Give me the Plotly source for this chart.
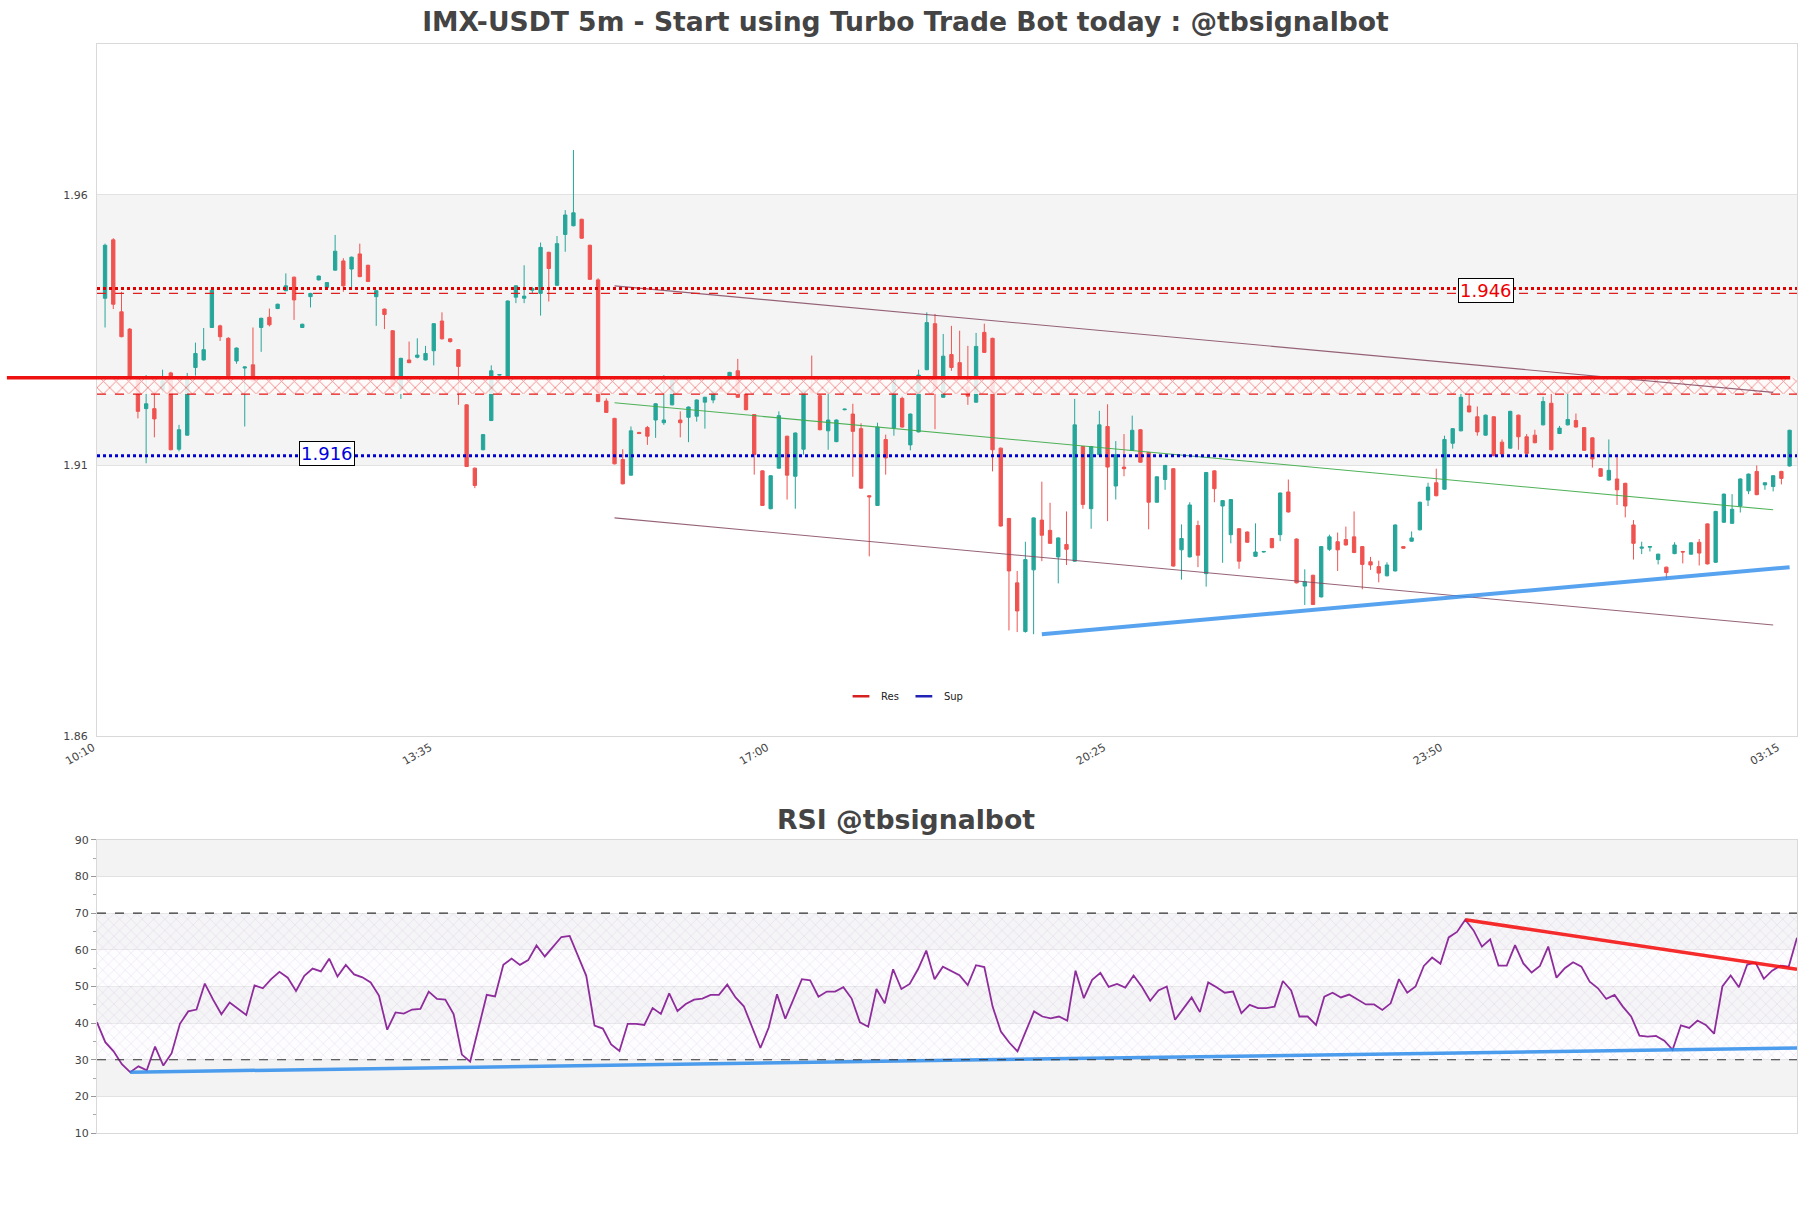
import pandas as pd
import plotly.graph_objects as go

# ---------------- data ----------------
start_time = "2024-01-01 10:10"
n_candles = 206
times = pd.date_range(start_time, periods=n_candles, freq="5min")

open_ = [
    1.9451, 1.9559, 1.9426, 1.9394, 1.9305, 1.9247, 1.9247, 1.9282, 1.9313, 1.9172,
    1.9198, 1.9323, 1.9337, 1.9397, 1.9400, 1.9377, 1.9335, 1.9322, 1.9328, 1.9397,
    1.9416, 1.9432, 1.9465, 1.9490, 1.9397, 1.9454, 1.9485, 1.9471, 1.9503, 1.9520,
    1.9505, 1.9533, 1.9512, 1.9454, 1.9431, 1.9391, 1.9282, 1.9337, 1.9342, 1.9337,
    1.9354, 1.9409, 1.9376, 1.9356, 1.9254, 1.9137, 1.9171, 1.9225, 1.9309, 1.9305,
    1.9453, 1.9451, 1.9466, 1.9460, 1.9536, 1.9475, 1.9569, 1.9585, 1.9597, 1.9549,
    1.9485, 1.9261, 1.9229, 1.9153, 1.9124, 1.9203, 1.9212, 1.9226, 1.9221, 1.9254,
    1.9226, 1.9231, 1.9233, 1.9259, 1.9263, 1.9285, 1.9302, 1.9317, 1.9276, 1.9236,
    1.9132, 1.9062, 1.9137, 1.9196, 1.9122, 1.9172, 1.9285, 1.9271, 1.9206, 1.9186,
    1.9245, 1.9237, 1.9210, 1.9086, 1.9068, 1.9190, 1.9211, 1.9266, 1.9180, 1.9204,
    1.9319, 1.9404, 1.9268, 1.9347, 1.9332, 1.9287, 1.9259, 1.9388, 1.9377, 1.9174,
    1.9044, 1.8925, 1.8835, 1.8949, 1.9041, 1.9022, 1.8973, 1.8996, 1.8965, 1.9177,
    1.9062, 1.9162, 1.9214, 1.9104, 1.9139, 1.9170, 1.9208, 1.9166, 1.9074, 1.9116,
    1.9136, 1.8986, 1.8973, 1.9031, 1.8942, 1.9132, 1.9067, 1.9014, 1.9025, 1.9019,
    1.8974, 1.8982, 1.9007, 1.9014, 1.9093, 1.9006, 1.8919, 1.8939, 1.8899, 1.8987,
    1.9001, 1.9005, 1.9010, 1.8992, 1.8964, 1.8955, 1.8938, 1.8947, 1.8992, 1.9002,
    1.9023, 1.9078, 1.9110, 1.9098, 1.9183, 1.9206, 1.9252, 1.9232, 1.9198, 1.9232,
    1.9185, 1.9174, 1.9235, 1.9195, 1.9198, 1.9217, 1.9257, 1.9201, 1.9217, 1.9225,
    1.9212, 1.9193, 1.9136, 1.9115, 1.9117, 1.9109, 1.9032, 1.8989, 1.8991, 1.8968,
    1.8954, 1.8979, 1.8983, 1.8978, 1.9000, 1.9034, 1.8963, 1.9037, 1.9035, 1.9067,
    1.9095, 1.9131, 1.9106, 1.9103, 1.9131, 1.9141,
]
high = [
    1.9552, 1.9562, 1.9463, 1.9396, 1.9307, 1.9309, 1.9282, 1.9319, 1.9315, 1.9217,
    1.9313, 1.9369, 1.9396, 1.9468, 1.9402, 1.9379, 1.9360, 1.9325, 1.9397, 1.9415,
    1.9432, 1.9441, 1.9497, 1.9491, 1.9404, 1.9461, 1.9493, 1.9481, 1.9568, 1.9525,
    1.9528, 1.9552, 1.9513, 1.9466, 1.9432, 1.9392, 1.9341, 1.9371, 1.9377, 1.9363,
    1.9405, 1.9425, 1.9377, 1.9357, 1.9255, 1.9138, 1.9200, 1.9327, 1.9311, 1.9447,
    1.9475, 1.9512, 1.9472, 1.9554, 1.9537, 1.9566, 1.9614, 1.9725, 1.9598, 1.9550,
    1.9488, 1.9266, 1.9230, 1.9172, 1.9214, 1.9204, 1.9215, 1.9257, 1.9309, 1.9306,
    1.9242, 1.9251, 1.9264, 1.9269, 1.9280, 1.9296, 1.9315, 1.9339, 1.9287, 1.9237,
    1.9133, 1.9124, 1.9242, 1.9197, 1.9203, 1.9282, 1.9345, 1.9272, 1.9285, 1.9227,
    1.9247, 1.9256, 1.9220, 1.9087, 1.9221, 1.9199, 1.9303, 1.9269, 1.9238, 1.9319,
    1.9425, 1.9422, 1.9385, 1.9400, 1.9391, 1.9363, 1.9387, 1.9404, 1.9378, 1.9175,
    1.9045, 1.8947, 1.9001, 1.9046, 1.9112, 1.9073, 1.9009, 1.9057, 1.9265, 1.9178,
    1.9178, 1.9243, 1.9255, 1.9187, 1.9200, 1.9234, 1.9209, 1.9167, 1.9122, 1.9143,
    1.9137, 1.9033, 1.9074, 1.9040, 1.9130, 1.9133, 1.9078, 1.9080, 1.9026, 1.9020,
    1.9035, 1.8984, 1.9008, 1.9092, 1.9116, 1.9007, 1.8950, 1.8940, 1.8993, 1.9014,
    1.9018, 1.9029, 1.9057, 1.8993, 1.8973, 1.8966, 1.8963, 1.9033, 1.8993, 1.9020,
    1.9075, 1.9110, 1.9136, 1.9197, 1.9211, 1.9292, 1.9283, 1.9251, 1.9236, 1.9233,
    1.9190, 1.9243, 1.9236, 1.9200, 1.9208, 1.9269, 1.9278, 1.9215, 1.9306, 1.9238,
    1.9213, 1.9194, 1.9137, 1.9190, 1.9161, 1.9110, 1.9041, 1.9001, 1.8993, 1.8979,
    1.8955, 1.9000, 1.8984, 1.9000, 1.9006, 1.9035, 1.9058, 1.9090, 1.9089, 1.9118,
    1.9127, 1.9142, 1.9111, 1.9124, 1.9132, 1.9208,
]
low = [
    1.9397, 1.9431, 1.9379, 1.9303, 1.9229, 1.9146, 1.9194, 1.9276, 1.9170, 1.9168,
    1.9197, 1.9308, 1.9336, 1.9396, 1.9372, 1.9307, 1.9330, 1.9214, 1.9297, 1.9352,
    1.9399, 1.9431, 1.9464, 1.9411, 1.9396, 1.9434, 1.9484, 1.9470, 1.9502, 1.9463,
    1.9471, 1.9490, 1.9481, 1.9400, 1.9394, 1.9287, 1.9265, 1.9331, 1.9340, 1.9336,
    1.9327, 1.9375, 1.9369, 1.9254, 1.9139, 1.9100, 1.9170, 1.9224, 1.9308, 1.9304,
    1.9442, 1.9442, 1.9460, 1.9419, 1.9445, 1.9474, 1.9537, 1.9584, 1.9561, 1.9485,
    1.9259, 1.9239, 1.9144, 1.9107, 1.9123, 1.9200, 1.9180, 1.9193, 1.9217, 1.9253,
    1.9194, 1.9185, 1.9223, 1.9210, 1.9257, 1.9278, 1.9291, 1.9267, 1.9244, 1.9125,
    1.9067, 1.9061, 1.9136, 1.9079, 1.9062, 1.9162, 1.9275, 1.9207, 1.9171, 1.9185,
    1.9244, 1.9121, 1.9099, 1.8974, 1.9067, 1.9125, 1.9197, 1.9212, 1.9170, 1.9203,
    1.9318, 1.9209, 1.9267, 1.9317, 1.9307, 1.9254, 1.9258, 1.9350, 1.9131, 1.9029,
    1.8837, 1.8834, 1.8833, 1.8830, 1.8965, 1.8997, 1.8924, 1.8958, 1.8964, 1.9062,
    1.9025, 1.9161, 1.9039, 1.9079, 1.9122, 1.9169, 1.9147, 1.9024, 1.9073, 1.9097,
    1.8955, 1.8931, 1.8972, 1.8954, 1.8918, 1.9074, 1.8962, 1.8998, 1.8951, 1.8999,
    1.8973, 1.8981, 1.8989, 1.9002, 1.9055, 1.8924, 1.8884, 1.8884, 1.8898, 1.8984,
    1.8947, 1.8994, 1.8980, 1.8913, 1.8949, 1.8926, 1.8937, 1.8946, 1.8988, 1.9001,
    1.9022, 1.9067, 1.9085, 1.9097, 1.9173, 1.9205, 1.9240, 1.9197, 1.9197, 1.9159,
    1.9157, 1.9173, 1.9171, 1.9163, 1.9183, 1.9216, 1.9170, 1.9200, 1.9216, 1.9212,
    1.9169, 1.9138, 1.9121, 1.9114, 1.9069, 1.9046, 1.8968, 1.8978, 1.8983, 1.8959,
    1.8933, 1.8978, 1.8961, 1.8977, 1.8957, 1.8959, 1.8962, 1.9036, 1.9034, 1.9055,
    1.9089, 1.9087, 1.9097, 1.9094, 1.9107, 1.9140,
]
close = [
    1.9549, 1.9440, 1.9380, 1.9305, 1.9242, 1.9256, 1.9228, 1.9298, 1.9171, 1.9208,
    1.9305, 1.9349, 1.9356, 1.9466, 1.9380, 1.9308, 1.9359, 1.9324, 1.9298, 1.9414,
    1.9402, 1.9440, 1.9474, 1.9448, 1.9403, 1.9460, 1.9492, 1.9480, 1.9538, 1.9474,
    1.9527, 1.9491, 1.9482, 1.9465, 1.9421, 1.9288, 1.9340, 1.9332, 1.9346, 1.9349,
    1.9404, 1.9376, 1.9371, 1.9325, 1.9140, 1.9105, 1.9199, 1.9317, 1.9310, 1.9446,
    1.9474, 1.9455, 1.9469, 1.9545, 1.9506, 1.9552, 1.9605, 1.9609, 1.9562, 1.9486,
    1.9260, 1.9240, 1.9145, 1.9108, 1.9206, 1.9201, 1.9196, 1.9256, 1.9226, 1.9305,
    1.9221, 1.9250, 1.9263, 1.9268, 1.9279, 1.9279, 1.9314, 1.9268, 1.9245, 1.9162,
    1.9068, 1.9123, 1.9234, 1.9124, 1.9202, 1.9281, 1.9276, 1.9208, 1.9226, 1.9226,
    1.9246, 1.9205, 1.9100, 1.9084, 1.9213, 1.9156, 1.9302, 1.9213, 1.9237, 1.9309,
    1.9406, 1.9283, 1.9344, 1.9323, 1.9308, 1.9270, 1.9362, 1.9351, 1.9171, 1.9030,
    1.8947, 1.8873, 1.8968, 1.9045, 1.9013, 1.8998, 1.9008, 1.8987, 1.9217, 1.9070,
    1.9177, 1.9217, 1.9139, 1.9162, 1.9136, 1.9207, 1.9148, 1.9074, 1.9121, 1.9142,
    1.8956, 1.9007, 1.9069, 1.8976, 1.9129, 1.9099, 1.9077, 1.9079, 1.8965, 1.9000,
    1.8982, 1.8983, 1.8990, 1.9091, 1.9056, 1.8925, 1.8927, 1.8885, 1.8992, 1.9010,
    1.8986, 1.8995, 1.8981, 1.8959, 1.8958, 1.8943, 1.8958, 1.9032, 1.8989, 1.9008,
    1.9074, 1.9102, 1.9086, 1.9190, 1.9210, 1.9268, 1.9241, 1.9204, 1.9235, 1.9160,
    1.9163, 1.9242, 1.9195, 1.9164, 1.9184, 1.9260, 1.9171, 1.9211, 1.9227, 1.9213,
    1.9170, 1.9154, 1.9122, 1.9133, 1.9097, 1.9067, 1.8998, 1.8991, 1.8992, 1.8978,
    1.8944, 1.8995, 1.8982, 1.8999, 1.8980, 1.8960, 1.9057, 1.9089, 1.9061, 1.9117,
    1.9126, 1.9088, 1.9110, 1.9123, 1.9118, 1.9207,
]
rsi = [
    40.2, 34.8, 32.3, 28.8, 26.6, 28.2, 27.1, 33.6, 28.4, 31.8,
    39.8, 43.2, 43.7, 50.8, 46.4, 42.4, 45.6, 43.9, 42.2, 50.3,
    49.5, 52.0, 54.0, 52.4, 48.8, 52.9, 54.9, 54.1, 57.6, 52.7,
    55.9, 53.3, 52.5, 51.1, 47.5, 38.2, 42.9, 42.6, 43.7, 43.9,
    48.6, 46.6, 46.4, 42.5, 31.4, 29.5, 38.6, 47.7, 47.3, 55.9,
    57.6, 55.9, 57.2, 61.2, 58.2, 60.9, 63.5, 63.8, 58.6, 52.9,
    39.3, 38.5, 34.2, 32.4, 39.8, 39.8, 39.5, 44.1, 42.5, 48.1,
    43.3, 45.2, 46.4, 46.7, 47.7, 47.7, 50.5, 47.0, 44.6, 39.1,
    33.2, 38.8, 47.9, 41.2, 46.5, 52.0, 51.7, 47.2, 48.6, 48.6,
    49.8, 46.7, 40.2, 39.0, 49.3, 45.4, 54.7, 49.3, 50.7, 54.7,
    59.8, 52.0, 55.4, 54.2, 53.1, 50.4, 55.8, 55.3, 44.5, 37.7,
    34.7, 32.3, 37.7, 43.2, 41.8, 41.3, 41.8, 40.7, 54.3, 46.8,
    51.8, 53.7, 49.9, 50.7, 49.7, 53.0, 49.9, 46.1, 48.9, 50.0,
    40.9, 43.8, 47.0, 43.0, 51.1, 49.8, 48.3, 48.6, 42.7, 45.0,
    44.1, 44.1, 44.5, 51.5, 48.9, 41.8, 41.8, 39.5, 47.2, 48.3,
    47.0, 47.8, 46.5, 45.1, 45.1, 43.6, 45.4, 52.0, 48.3, 50.0,
    55.6, 57.9, 56.2, 63.4, 64.9, 68.2, 65.3, 60.9, 62.9, 55.7,
    55.7, 61.3, 56.3, 53.8, 55.6, 60.9, 52.4, 55.0, 56.6, 55.4,
    51.3, 49.5, 46.6, 47.7, 44.5, 41.8, 36.6, 36.3, 36.5, 35.2,
    32.7, 39.4, 38.7, 40.7, 39.5, 37.1, 50.0, 53.0, 49.8, 56.0,
    56.5, 52.1, 54.3, 55.7, 55.4, 63.3,
]

# levels / zones
res_level = 1.946
res_level_upper = 1.9469
sup_level = 1.916
zone_top = 1.9304
zone_bottom = 1.9274

# trend lines: (start index, end index), (start value, end value)
channel_idx = [62, 203]
channel_upper = [1.9474, 1.9277]
channel_mid = [1.9258, 1.9060]
channel_lower = [1.9045, 1.8847]
support_idx = [114, 205]
support_vals = [1.8830, 1.8954]
rsi_res_idx = [165, 205]
rsi_res_vals = [68.2, 54.7]
rsi_sup_idx = [4, 205]
rsi_sup_vals = [26.6, 33.2]
rsi_bands = [(80, 90), (60, 70), (40, 50), (20, 30)]
rsi_ob, rsi_os = 70, 30

# ---------------- figure ----------------
FONT = "DejaVu Sans"
five = pd.Timedelta(minutes=5)
x_left = times[0] - 0.98 * five
x_right = times[-1] + 0.9 * five

fig = go.Figure()

# red hatched zone
fig.add_trace(go.Scatter(
    x=[x_left, x_right, x_right, x_left, x_left],
    y=[zone_top, zone_top, zone_bottom, zone_bottom, zone_top],
    mode="lines", line=dict(width=0), fill="toself",
    fillcolor="rgba(255,255,255,0.8)",
    fillpattern=dict(shape="x", fgcolor="rgb(232,25,25)", bgcolor="rgba(255,252,252,0.85)",
                     size=9, solidity=0.2),
    showlegend=False, hoverinfo="skip", xaxis="x", yaxis="y"))
fig.add_trace(go.Scatter(
    x=[x_left, x_right], y=[zone_bottom, zone_bottom], mode="lines",
    line=dict(color="rgb(230,20,20)", width=1.2, dash="dash"),
    showlegend=False, hoverinfo="skip", xaxis="x", yaxis="y"))

# candles
fig.add_trace(go.Candlestick(
    x=times, open=open_, high=high, low=low, close=close,
    increasing=dict(line=dict(color="#26a69a", width=1), fillcolor="#26a69a"),
    decreasing=dict(line=dict(color="#ef5350", width=1), fillcolor="#ef5350"),
    showlegend=False, xaxis="x", yaxis="y", hoverinfo="skip"))

# channel lines
for vals, col in [(channel_upper, "rgba(130,70,95,0.85)"),
                  (channel_lower, "rgba(130,70,95,0.85)"),
                  (channel_mid, "rgba(60,170,70,0.9)")]:
    fig.add_trace(go.Scatter(
        x=[times[i] for i in channel_idx], y=vals, mode="lines",
        line=dict(color=col, width=1.1), showlegend=False, hoverinfo="skip",
        xaxis="x", yaxis="y"))

# support trend (blue)
fig.add_trace(go.Scatter(
    x=[times[i] for i in support_idx], y=support_vals, mode="lines",
    line=dict(color="rgba(45,140,235,0.8)", width=4), showlegend=False, hoverinfo="skip",
    xaxis="x", yaxis="y"))

# resistance / support levels
fig.add_trace(go.Scatter(
    x=[x_left, x_right], y=[res_level_upper, res_level_upper], mode="lines",
    line=dict(color="#e00000", width=3, dash="dot"), showlegend=False, hoverinfo="skip",
    xaxis="x", yaxis="y"))
fig.add_trace(go.Scatter(
    x=[x_left, x_right], y=[res_level, res_level], mode="lines",
    line=dict(color="#e02020", width=1.2, dash="dash"), showlegend=False, hoverinfo="skip",
    xaxis="x", yaxis="y"))
fig.add_trace(go.Scatter(
    x=[x_left, x_right], y=[sup_level, sup_level], mode="lines",
    line=dict(color="#0000d0", width=3, dash="dot"), showlegend=False, hoverinfo="skip",
    xaxis="x", yaxis="y"))

# legend entries
fig.add_trace(go.Scatter(
    x=[None], y=[None], mode="markers", name="Res",
    marker=dict(symbol="line-ew-open", size=12, color="#d62020",
                line=dict(color="#d62020", width=2.5)),
    xaxis="x", yaxis="y"))
fig.add_trace(go.Scatter(
    x=[None], y=[None], mode="markers", name="Sup",
    marker=dict(symbol="line-ew-open", size=12, color="#2222b5",
                line=dict(color="#2222b5", width=2.5)),
    xaxis="x", yaxis="y"))

# RSI hatched zone 30-70
fig.add_trace(go.Scatter(
    x=[times[0], times[-1], times[-1], times[0], times[0]],
    y=[rsi_ob, rsi_ob, rsi_os, rsi_os, rsi_ob], mode="lines", line=dict(width=0),
    fill="toself", fillcolor="rgba(0,0,0,0)",
    fillpattern=dict(shape="x", fgcolor="rgba(165,135,200,0.6)", bgcolor="rgba(250,247,253,0.3)",
                     size=8, solidity=0.1),
    showlegend=False, hoverinfo="skip", xaxis="x2", yaxis="y2"))

# RSI line
fig.add_trace(go.Scatter(
    x=times, y=rsi, mode="lines", line=dict(color="#8e2c9c", width=1.8),
    showlegend=False, hoverinfo="skip", xaxis="x2", yaxis="y2"))
fig.add_trace(go.Scatter(
    x=[times[i] for i in rsi_res_idx], y=rsi_res_vals, mode="lines",
    line=dict(color="rgba(245,20,20,0.9)", width=3.5), showlegend=False, hoverinfo="skip",
    xaxis="x2", yaxis="y2"))
fig.add_trace(go.Scatter(
    x=[times[i] for i in rsi_sup_idx], y=rsi_sup_vals, mode="lines",
    line=dict(color="rgba(45,140,235,0.85)", width=3.5), showlegend=False, hoverinfo="skip",
    xaxis="x2", yaxis="y2"))

# shapes
shapes = [
    dict(type="rect", xref="x domain", x0=0, x1=1, yref="y", y0=1.9142, y1=1.9642,
         fillcolor="#f4f4f4", line=dict(width=0), layer="below"),
    dict(type="line", xref="paper", x0=-0.053, x1=0.996, yref="y", y0=zone_top, y1=zone_top,
         line=dict(color="#ee1111", width=3.5), layer="above"),
]
for lo, hi in rsi_bands:
    shapes.append(dict(type="rect", xref="x2 domain", x0=0, x1=1, yref="y2", y0=lo, y1=hi,
                       fillcolor="#f3f3f3", line=dict(width=0), layer="below"))
for lvl in (rsi_ob, rsi_os):
    shapes.append(dict(type="line", xref="x2 domain", x0=0, x1=1, yref="y2", y0=lvl, y1=lvl,
                       line=dict(color="#333333", width=1.2, dash="dash"), layer="above"))

annotations = [
    dict(text=f"{res_level:.3f}", x=times[168], y=1.9465, xref="x", yref="y",
         showarrow=False, font=dict(family=FONT, size=18, color="#ee0000"),
         bgcolor="white", bordercolor="black", borderwidth=1, borderpad=1),
    dict(text=f"{sup_level:.3f}", x=times[27], y=1.9164, xref="x", yref="y",
         showarrow=False, font=dict(family=FONT, size=18, color="#0000dd"),
         bgcolor="white", bordercolor="black", borderwidth=1, borderpad=1),
    dict(text="RSI @tbsignalbot", x=0.4756, y=0.2883, xref="paper", yref="paper",
         showarrow=False, xanchor="center", yanchor="middle",
         font=dict(family=FONT, size=26.7, color="#444444", weight="bold")),
]

axis_common = dict(showline=True, mirror=True, linecolor="#d9d9d9", linewidth=1, zeroline=False)

fig.update_layout(
    width=1811, height=1208,
    margin=dict(l=97, r=14, t=44, b=75),
    paper_bgcolor="white", plot_bgcolor="white",
    font=dict(family=FONT, color="#444444", size=11),
    title=dict(text="IMX-USDT 5m - Start using Turbo Trade Bot today : @tbsignalbot",
               x=0.5, xref="container", xanchor="center",
               y=1 - 22 / 1208, yref="container", yanchor="middle",
               font=dict(family=FONT, size=26.6, color="#444444", weight="bold")),
    boxgap=0.42,
    showlegend=True,
    legend=dict(orientation="h", x=0.475, xanchor="center", y=0.401, yanchor="middle",
                font=dict(family=FONT, size=10, color="#222222"), bgcolor="rgba(0,0,0,0)",
                itemwidth=30),
    xaxis=dict(domain=[0, 1], anchor="y", type="date", range=[x_left, x_right],
               tick0=times[0], dtick=41 * 5 * 60 * 1000, tickformat="%H:%M",
               tickangle=-30, ticklabelshift=-12, showgrid=False,
               rangeslider=dict(visible=False),
               tickfont=dict(size=11, color="#444444"), **axis_common),
    yaxis=dict(domain=[0.3646, 1], anchor="x", range=[1.8642, 1.9921],
               tick0=1.8642, dtick=0.05, tickformat=".2f", showgrid=True,
               gridcolor="#e2e2e2", ticklabelstandoff=6,
               tickfont=dict(size=11, color="#444444"), **axis_common),
    xaxis2=dict(domain=[0, 1], anchor="y2", type="date", range=[times[0], times[-1]],
                showticklabels=False, showgrid=False, **axis_common),
    yaxis2=dict(domain=[0, 0.2691], anchor="x2", range=[10, 90], dtick=10,
                ticks="outside", ticklen=5, tickcolor="#999999", showgrid=True,
                gridcolor="#e2e2e2",
                minor=dict(dtick=5, ticks="outside", ticklen=3, tickcolor="#aaaaaa", showgrid=False),
                tickfont=dict(size=11, color="#444444"), **axis_common),
    shapes=shapes,
    annotations=annotations,
)

fig.write_html("out.html", config=dict(displayModeBar=False))
